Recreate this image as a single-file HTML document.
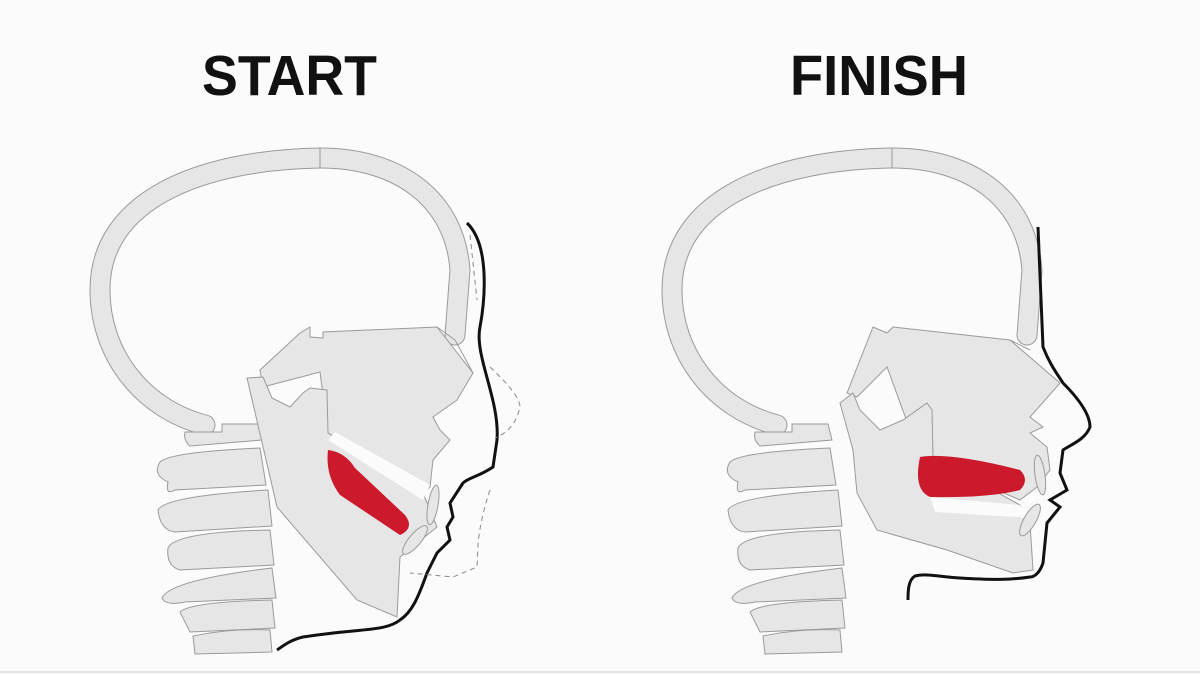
<!DOCTYPE html>
<html><head><meta charset="utf-8"><style>
html,body{margin:0;padding:0;background:#fbfbfb;}
svg{display:block}
</style></head><body>
<svg width="1200" height="675" viewBox="0 0 1200 675" xmlns="http://www.w3.org/2000/svg">
<rect width="1200" height="675" fill="#fbfbfb"/>
<text x="202" y="95" font-family="Liberation Sans, sans-serif" font-weight="bold" font-size="57" textLength="175" lengthAdjust="spacingAndGlyphs" fill="#111">START</text>
<text x="790" y="95" font-family="Liberation Sans, sans-serif" font-weight="bold" font-size="57" textLength="178" lengthAdjust="spacingAndGlyphs" fill="#111">FINISH</text>
<defs>
<g id="cran">
<path d="M205,425 C140,408 100,352 100,290 C100,200 200,160 320,158 C400,158 455,200 460,270 L455,335" fill="none" stroke="#9a9a9a" stroke-width="21" stroke-linecap="round"/>
<path d="M205,425 C140,408 100,352 100,290 C100,200 200,160 320,158 C400,158 455,200 460,270 L455,335" fill="none" stroke="#e6e6e6" stroke-width="19" stroke-linecap="round"/>
<line x1="320" y1="148" x2="320" y2="168" stroke="#9a9a9a" stroke-width="1"/>
</g>
<g id="vert" fill="#e6e6e6" stroke="#9a9a9a" stroke-width="1">
<path d="M185,432 L222,432 L222,424 L258,424 L262,440 L190,446 Q183,440 185,432 Z"/>
<path d="M160,462 Q170,452 260,448 L266,485 L175,490 Q165,496 168,482 Q152,475 160,462 Z"/>
<path d="M158,510 Q165,496 268,490 L272,526 L175,532 Q160,530 158,510 Z"/>
<path d="M168,548 Q175,532 270,530 L274,565 L180,570 Q166,566 168,548 Z"/>
<path d="M162,598 Q170,580 272,568 L276,598 L185,602 Q165,606 162,598 Z"/>
<path d="M180,612 Q190,602 272,600 L275,628 L190,632 Z"/>
<path d="M193,636 Q230,628 270,630 L272,652 L195,654 Z"/>
</g>
</defs>
<!-- LEFT -->
<use href="#cran"/>
<use href="#vert"/>
<g fill="#e6e6e6" stroke="#9a9a9a" stroke-width="1">
<path d="M260,370 L300,333 L310,327 L310,337 L323,338 L323,332 L437,327 L473,373 L457,400 L433,417 L440,430 L450,440 L433,460 L430,487 L423,493 L328,433 L320,372 L263,387 Z"/>
<path d="M247,378 L263,377 L272,398 L290,407 L303,393 L310,388 L327,390 L328,433 L423,493 L437,527 L400,557 L397,617 L357,600 L277,507 Z"/>
<path d="M328,440 L423,500 L430,485 L335,432 Z" fill="#fbfbfb" stroke="none"/>
<ellipse cx="433" cy="505" rx="5" ry="20" transform="rotate(10 433 505)"/>
<ellipse cx="415" cy="540" rx="6" ry="18" transform="rotate(40 415 540)"/>
<line x1="437" y1="327" x2="455" y2="340"/><line x1="455" y1="340" x2="473" y2="373"/>
</g>
<path d="M328,450 Q345,452 355,468 L405,515 Q415,528 400,535 L340,495 Q325,475 328,450 Z" fill="#cc1a2c"/>
<path d="M467,223 C490,245 485,300 480,327 C474,355 500,400 497,440 L493,467 C480,476 468,478 463,483 L450,503 L453,517 L447,527 L450,540 L437,553 L427,573 C418,598 412,612 400,620 C385,632 360,628 303,637 C290,640 283,646 277,650" fill="none" stroke="#111" stroke-width="3"/>
<path d="M470,235 L477,300 M490,367 Q520,395 520,407 Q515,430 495,438 M490,490 Q480,520 478,545 L477,567 L453,577 L410,573" fill="none" stroke="#888" stroke-width="1" stroke-dasharray="5,4"/>
<!-- RIGHT -->
<use href="#cran" transform="translate(572,0)"/>
<use href="#vert" transform="translate(570,0)"/>
<g fill="#e6e6e6" stroke="#9a9a9a" stroke-width="1">
<path d="M847,393 L873,327 L880,330 L887,333 L893,327 L1010,340 L1060,383 L1030,417 L1043,427 L1030,433 L1047,447 L1050,470 L1037,487 L1020,500 L920,457 L887,367 L857,397 Z"/>
<path d="M840,403 L853,393 L860,410 L880,430 L903,420 L927,403 L932,410 L933,457 L1020,505 L1030,523 L1033,570 L1013,573 L947,550 L877,530 L857,493 L853,450 Z"/>
<path d="M930,497 L1020,505 L1030,518 L935,512 Z" fill="#fbfbfb" stroke="none"/>
<ellipse cx="1040" cy="475" rx="5" ry="20" transform="rotate(-8 1040 475)"/>
<ellipse cx="1030" cy="520" rx="6" ry="18" transform="rotate(30 1030 520)"/>
<line x1="1010" y1="340" x2="1030" y2="350"/>
</g>
<path d="M920,457 Q950,452 1020,470 Q1030,480 1020,490 Q990,498 930,497 Q913,490 920,457 Z" fill="#cc1a2c"/>
<path d="M1038,227 L1043,347 C1050,365 1058,375 1063,383 C1080,400 1090,415 1090,427 C1085,440 1070,445 1063,450 L1060,473 L1067,490 L1050,500 L1060,507 L1047,523 L1043,563 C1040,572 1035,577 1030,577 C1010,580 993,580 960,578 C940,577 927,573 915,576 C908,580 908,592 908,600" fill="none" stroke="#111" stroke-width="3"/>
<line x1="0" y1="672" x2="1200" y2="672" stroke="#ccc" stroke-width="1"/>
</svg>
</body></html>
